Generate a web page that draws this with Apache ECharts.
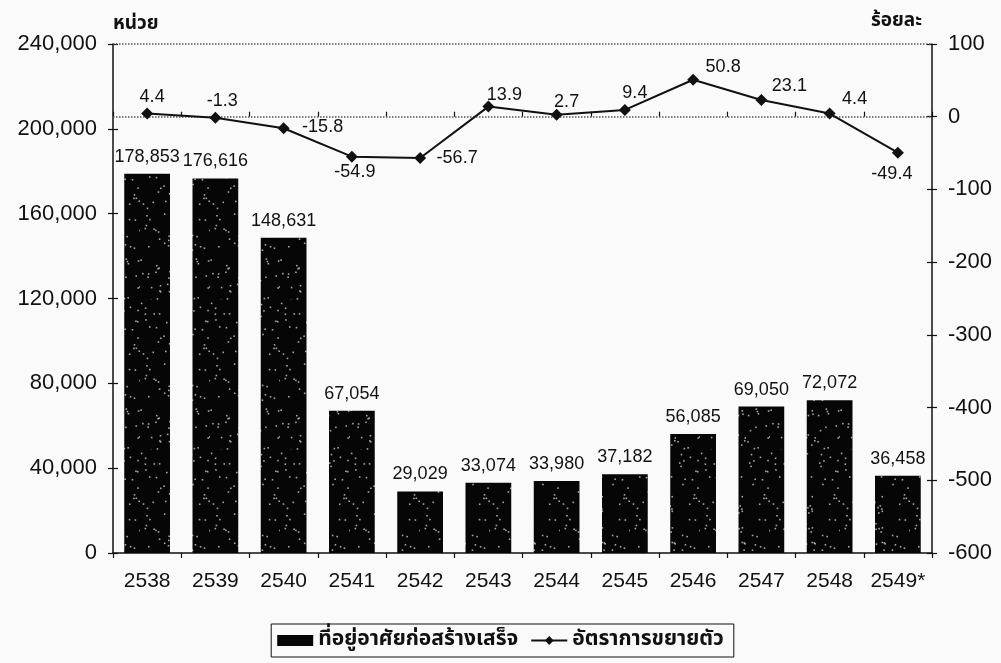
<!DOCTYPE html>
<html>
<head>
<meta charset="utf-8">
<script src="https://cdn.jsdelivr.net/npm/echarts@6/dist/echarts.min.js"></script>
<style>
  html, body { margin: 0; padding: 0; background: #fafafa; }
  #chart { width: 1001px; height: 663px; }
</style>
</head>
<body>
<div id="chart"></div>
<script>
// Years (Buddhist era) and the two series
const years = ['2538', '2539', '2540', '2541', '2542', '2543', '2544', '2545', '2546', '2547', '2548', '2549*'];
const completedUnits = [178853, 176616, 148631, 67054, 29029, 33074, 33980, 37182, 56085, 69050, 72072, 36458];
const growthRate = [4.4, -1.3, -15.8, -54.9, -56.7, 13.9, 2.7, 9.4, 50.8, 23.1, 4.4, -49.4];
// Pixel nudge of each growth label away from its marker
const growthLabelNudge = [[5, -16], [7, -17], [39, -1], [3, 15], [37, 0], [16, -12], [10, -13], [10, -17], [30, -13], [28, -14], [25, -14], [-6, 21]];

const unitName = 'ที่อยู่อาศัยก่อสร้างเสร็จ';
const rateName = 'อัตราการขยายตัว';
const font = '"Liberation Sans", Arial, sans-serif';
const thaiFont = '"Noto Sans Thai", "Tahoma", "Liberation Sans", sans-serif';
const ink = '#111';

// Speckled black fill for the bars: a fixed scatter of pale dots on a tile
function speckle() {
  const c = document.createElement('canvas');
  c.width = 70; c.height = 150;
  const g = c.getContext('2d');
  g.fillStyle = '#060606';
  g.fillRect(0, 0, c.width, c.height);
  const hash = k => { const v = Math.sin(k * 12.9898 + 78.233) * 43758.5453; return v - Math.floor(v); };
  g.fillStyle = 'rgba(205,205,205,0.8)';
  for (let i = 0; i < 120; i++) {
    const x = hash(i * 2 + 1) * c.width, y = hash(i * 2 + 2) * c.height;
    g.fillRect(x, y, 1.6, 1.6);
  }
  return c;
}

// Shared axis look; the hidden twins add inward ticks so ticks cross the axes
const lineStyle = { color: ink, width: 1.5 };
const tickOut = { show: true, length: 5, lineStyle: { color: ink, width: 1.2 } };
const tickIn = { show: true, inside: true, length: 5, lineStyle: { color: ink, width: 1.2 } };

const chart = echarts.init(document.getElementById('chart'));
chart.setOption({
  backgroundColor: '#fafafa',
  animation: false,
  grid: { left: 113, right: 69, top: 44, bottom: 110 },
  legend: {
    bottom: 6,
    left: 'center',
    borderColor: ink,
    borderWidth: 1,
    padding: [6, 10, 6, 6],
    itemGap: 12,
    itemWidth: 36,
    itemHeight: 11,
    textStyle: { fontFamily: thaiFont, fontSize: 21, fontWeight: 'bold', color: ink },
    data: [
      { name: unitName, icon: 'rect', itemStyle: { color: '#060606' } },
      { name: rateName }
    ]
  },
  xAxis: [
    {
      type: 'category',
      data: years,
      axisLine: { lineStyle },
      axisTick: tickOut,
      axisLabel: { color: ink, fontFamily: font, fontSize: 21, margin: 18, interval: 0 }
    },
    {
      type: 'category',
      data: years,
      position: 'bottom',
      axisLine: { show: false },
      axisTick: tickIn,
      axisLabel: { show: false }
    }
  ],
  yAxis: [
    {
      type: 'value',
      min: 0, max: 240000, interval: 40000,
      name: 'หน่วย',
      nameGap: 9,
      nameTextStyle: { fontFamily: thaiFont, fontSize: 19, fontWeight: 'bold', color: ink, align: 'left' },
      axisLine: { show: true, lineStyle },
      axisTick: tickOut,
      axisLabel: {
        color: ink, fontFamily: font, fontSize: 22, margin: 16,
        formatter: v => v.toLocaleString('en-US')
      },
      splitLine: { show: false }
    },
    {
      type: 'value',
      min: -600, max: 100, interval: 100,
      name: 'ร้อยละ',
      nameGap: 12,
      nameTextStyle: { fontFamily: thaiFont, fontSize: 19, fontWeight: 'bold', color: ink, align: 'right', padding: [0, 10, 0, 0] },
      axisLine: { show: true, lineStyle },
      axisTick: tickOut,
      axisLabel: { color: ink, fontFamily: font, fontSize: 22, margin: 16 },
      splitLine: { show: false }
    },
    {
      type: 'value', position: 'left',
      min: 0, max: 240000, interval: 40000,
      axisLine: { show: false }, axisTick: tickIn, axisLabel: { show: false }, splitLine: { show: false }
    },
    {
      type: 'value', position: 'right',
      min: -600, max: 100, interval: 100,
      axisLine: { show: false }, axisTick: tickIn, axisLabel: { show: false }, splitLine: { show: false }
    }
  ],
  series: [
    {
      name: unitName,
      type: 'bar',
      yAxisIndex: 0,
      data: completedUnits,
      barCategoryGap: '33%',
      itemStyle: { color: { image: speckle(), repeat: 'repeat' } },
      label: {
        show: true, position: 'top', distance: 8,
        color: ink, fontFamily: font, fontSize: 18,
        formatter: p => p.value.toLocaleString('en-US')
      },
      markLine: {
        silent: true, symbol: 'none', label: { show: false },
        lineStyle: { color: '#555', type: 'dotted', width: 1.5 },
        data: [{ yAxis: 240000 }]
      }
    },
    {
      name: rateName,
      type: 'line',
      yAxisIndex: 1,
      data: growthRate.map((v, i) => ({
        value: v,
        label: { position: 'inside', offset: growthLabelNudge[i] }
      })),
      symbol: 'diamond',
      symbolSize: 12,
      lineStyle: { color: ink, width: 2 },
      itemStyle: { color: ink },
      label: {
        show: true,
        color: ink, fontFamily: font, fontSize: 18
      },
      z: 5,
      markLine: {
        silent: true, symbol: 'none', label: { show: false },
        lineStyle: { color: '#555', type: 'dotted', width: 1.5 },
        data: [{ yAxis: 0 }]
      }
    }
  ]
});
</script>
</body>
</html>
